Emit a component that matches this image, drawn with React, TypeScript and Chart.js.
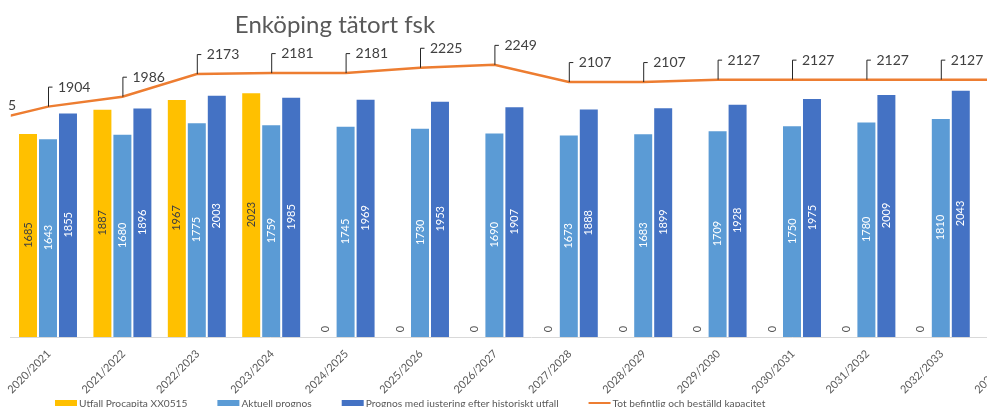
import React, { useEffect, useRef } from 'react';
import { Chart, registerables } from 'chart.js';

Chart.register(...registerables);

const chartTitle = 'Enköping tätort fsk';

const categories = [
  '2019/2020', '2020/2021', '2021/2022', '2022/2023', '2023/2024', '2024/2025',
  '2025/2026', '2026/2027', '2027/2028', '2028/2029', '2029/2030', '2030/2031',
  '2031/2032', '2032/2033', '2033/2034',
];

const utfallProcapita = [null, 1685, 1887, 1967, 2023, 0, 0, 0, 0, 0, 0, 0, 0, 0, null];
const aktuellPrognos = [null, 1643, 1680, 1775, 1759, 1745, 1730, 1690, 1673, 1683, 1709, 1750, 1780, 1810, null];
const prognosJusterad = [null, 1855, 1896, 2003, 1985, 1969, 1953, 1907, 1888, 1899, 1928, 1975, 2009, 2043, null];
const kapacitet = [1755, 1904, 1986, 2173, 2181, 2181, 2225, 2249, 2107, 2107, 2127, 2127, 2127, 2127, 2127];

const FONT = 'Lato, "Noto Sans", sans-serif';
const GRAY = '#595959';

const barLabelPlugin = {
  id: 'barLabels',
  afterDatasetsDraw(chart: any) {
    const ctx = chart.ctx;
    const xs = chart.scales.x;
    ctx.save();
    chart.data.datasets.forEach((ds: any, di: number) => {
      if (ds.type !== 'bar') return;
      const meta = chart.getDatasetMeta(di);
      meta.data.forEach((el: any, i: number) => {
        const v = ds.data[i];
        if (v === null || v === undefined || i < xs.min || i > xs.max) return;
        const x = el.x;
        ctx.save();
        ctx.font = `11px ${FONT}`;
        ctx.textAlign = 'center';
        ctx.textBaseline = 'middle';
        if (v === 0) {
          ctx.translate(x, el.base - 8);
          ctx.rotate(-Math.PI / 2);
          ctx.fillStyle = GRAY;
          ctx.fillText('0', 0, 0);
        } else {
          ctx.translate(x, (el.y + el.base) / 2);
          ctx.rotate(-Math.PI / 2);
          ctx.fillStyle = ds.labelColor;
          ctx.fillText(String(v), 0, 0);
        }
        ctx.restore();
      });
    });
    ctx.restore();
  },
};

const lineLabelPlugin = {
  id: 'lineLabels',
  afterDatasetsDraw(chart: any) {
    const ctx = chart.ctx;
    const xs = chart.scales.x;
    const ys = chart.scales.y;
    const area = chart.chartArea;
    ctx.save();
    ctx.beginPath();
    ctx.rect(area.left - 3, 0, chart.width, chart.height);
    ctx.clip();
    chart.data.datasets.forEach((ds: any) => {
      if (ds.type !== 'line') return;
      ds.data.forEach((v: any, i: number) => {
        if (v === null || v === undefined) return;
        const px = xs.getPixelForValue(i);
        const py = ys.getPixelForValue(v);
        const top = py - 20;
        ctx.strokeStyle = '#262626';
        ctx.lineWidth = 1;
        ctx.beginPath();
        ctx.moveTo(px + 0.5, py);
        ctx.lineTo(px + 0.5, top + 0.5);
        ctx.lineTo(px + 4.5, top + 0.5);
        ctx.stroke();
        ctx.fillStyle = '#404040';
        ctx.font = `14px ${FONT}`;
        ctx.textAlign = 'left';
        ctx.textBaseline = 'alphabetic';
        ctx.fillText(String(v), px + 10, top + 5);
      });
    });
    ctx.restore();
  },
};

const xLabelPlugin = {
  id: 'xLabels',
  afterDraw(chart: any) {
    const ctx = chart.ctx;
    const xs = chart.scales.x;
    const area = chart.chartArea;
    ctx.save();
    ctx.fillStyle = GRAY;
    ctx.font = `11px ${FONT}`;
    ctx.textAlign = 'right';
    ctx.textBaseline = 'middle';
    for (let i = xs.min; i <= xs.max; i++) {
      const px = xs.getPixelForValue(i);
      ctx.save();
      ctx.translate(px + 1, area.bottom + 15);
      ctx.rotate(-Math.PI / 4);
      ctx.fillText(String(chart.data.labels[i]), 0, 0);
      ctx.restore();
    }
    ctx.restore();
  },
};

const titleLegendPlugin = {
  id: 'titleLegend',
  afterDraw(chart: any) {
    const ctx = chart.ctx;
    ctx.save();
    ctx.fillStyle = GRAY;
    ctx.font = `24px ${FONT}`;
    ctx.textAlign = 'center';
    ctx.textBaseline = 'alphabetic';
    ctx.fillText(chartTitle, 335, 33);

    ctx.font = `10.2px ${FONT}`;
    ctx.textAlign = 'left';
    let x = 55;
    const order = [1, 2, 3, 0];
    order.forEach((di) => {
      const ds = chart.data.datasets[di];
      if (ds.type === 'line') {
        ctx.strokeStyle = ds.borderColor;
        ctx.lineWidth = 2;
        ctx.beginPath();
        ctx.moveTo(x, 403);
        ctx.lineTo(x + 22, 403);
        ctx.stroke();
      } else {
        ctx.fillStyle = ds.backgroundColor;
        ctx.fillRect(x, 400, 22, 6);
      }
      ctx.fillStyle = GRAY;
      ctx.fillText(ds.label, x + 24, 406.5);
      x += 24 + ctx.measureText(ds.label).width + 30;
    });
    ctx.restore();
  },
};

export default function App() {
  const ref = useRef<HTMLCanvasElement | null>(null);

  useEffect(() => {
    if (!ref.current) return;
    const chart = new Chart(ref.current, {
      type: 'bar',
      data: {
        labels: categories,
        datasets: [
          {
            type: 'line',
            label: 'Tot befintlig och beställd kapacitet',
            data: kapacitet,
            borderColor: '#ED7D31',
            backgroundColor: '#ED7D31',
            borderWidth: 2.5,
            pointRadius: 0,
            tension: 0,
            order: 0,
          } as any,
          {
            type: 'bar',
            label: 'Utfall Procapita XX0515',
            data: utfallProcapita,
            backgroundColor: '#FFC000',
            borderColor: 'rgba(255,255,255,0.3)',
            borderWidth: 1,
            labelColor: '#404040',
            order: 1,
          } as any,
          {
            type: 'bar',
            label: 'Aktuell prognos',
            data: aktuellPrognos,
            backgroundColor: '#5B9BD5',
            borderColor: 'rgba(255,255,255,0.3)',
            borderWidth: 1,
            labelColor: '#FFFFFF',
            order: 1,
          } as any,
          {
            type: 'bar',
            label: 'Prognos med justering efter historiskt utfall',
            data: prognosJusterad,
            backgroundColor: '#4472C4',
            borderColor: 'rgba(255,255,255,0.3)',
            borderWidth: 1,
            labelColor: '#FFFFFF',
            order: 1,
          } as any,
        ],
      },
      options: {
        responsive: false,
        animation: false,
        devicePixelRatio: 1,
        datasets: {
          bar: { categoryPercentage: 0.806, barPercentage: 1.0 },
        },
        layout: { padding: { left: 10.8, right: 7.6, top: 34.5, bottom: 0 } },
        plugins: {
          legend: { display: false },
          title: { display: false },
          tooltip: { enabled: false },
        },
        scales: {
          x: {
            min: '2020/2021',
            max: '2033/2034',
            offset: true,
            grid: { display: false, drawTicks: false },
            border: { display: true, color: '#D9D9D9', width: 1 },
            ticks: { display: false },
            afterFit: (scale: any) => {
              scale.height = 70;
            },
          },
          y: {
            display: false,
            min: 0,
            max: 2500,
          },
        },
      } as any,
      plugins: [barLabelPlugin, lineLabelPlugin, xLabelPlugin, titleLegendPlugin],
    });
    return () => chart.destroy();
  }, []);

  return (
    <div
      style={{
        position: 'fixed',
        left: 0,
        top: 0,
        width: 987,
        height: 407,
        overflow: 'hidden',
        background: '#ffffff',
      }}
    >
      <canvas ref={ref} width={1060} height={407} style={{ display: 'block', width: 1060, height: 407 }} />
    </div>
  );
}
